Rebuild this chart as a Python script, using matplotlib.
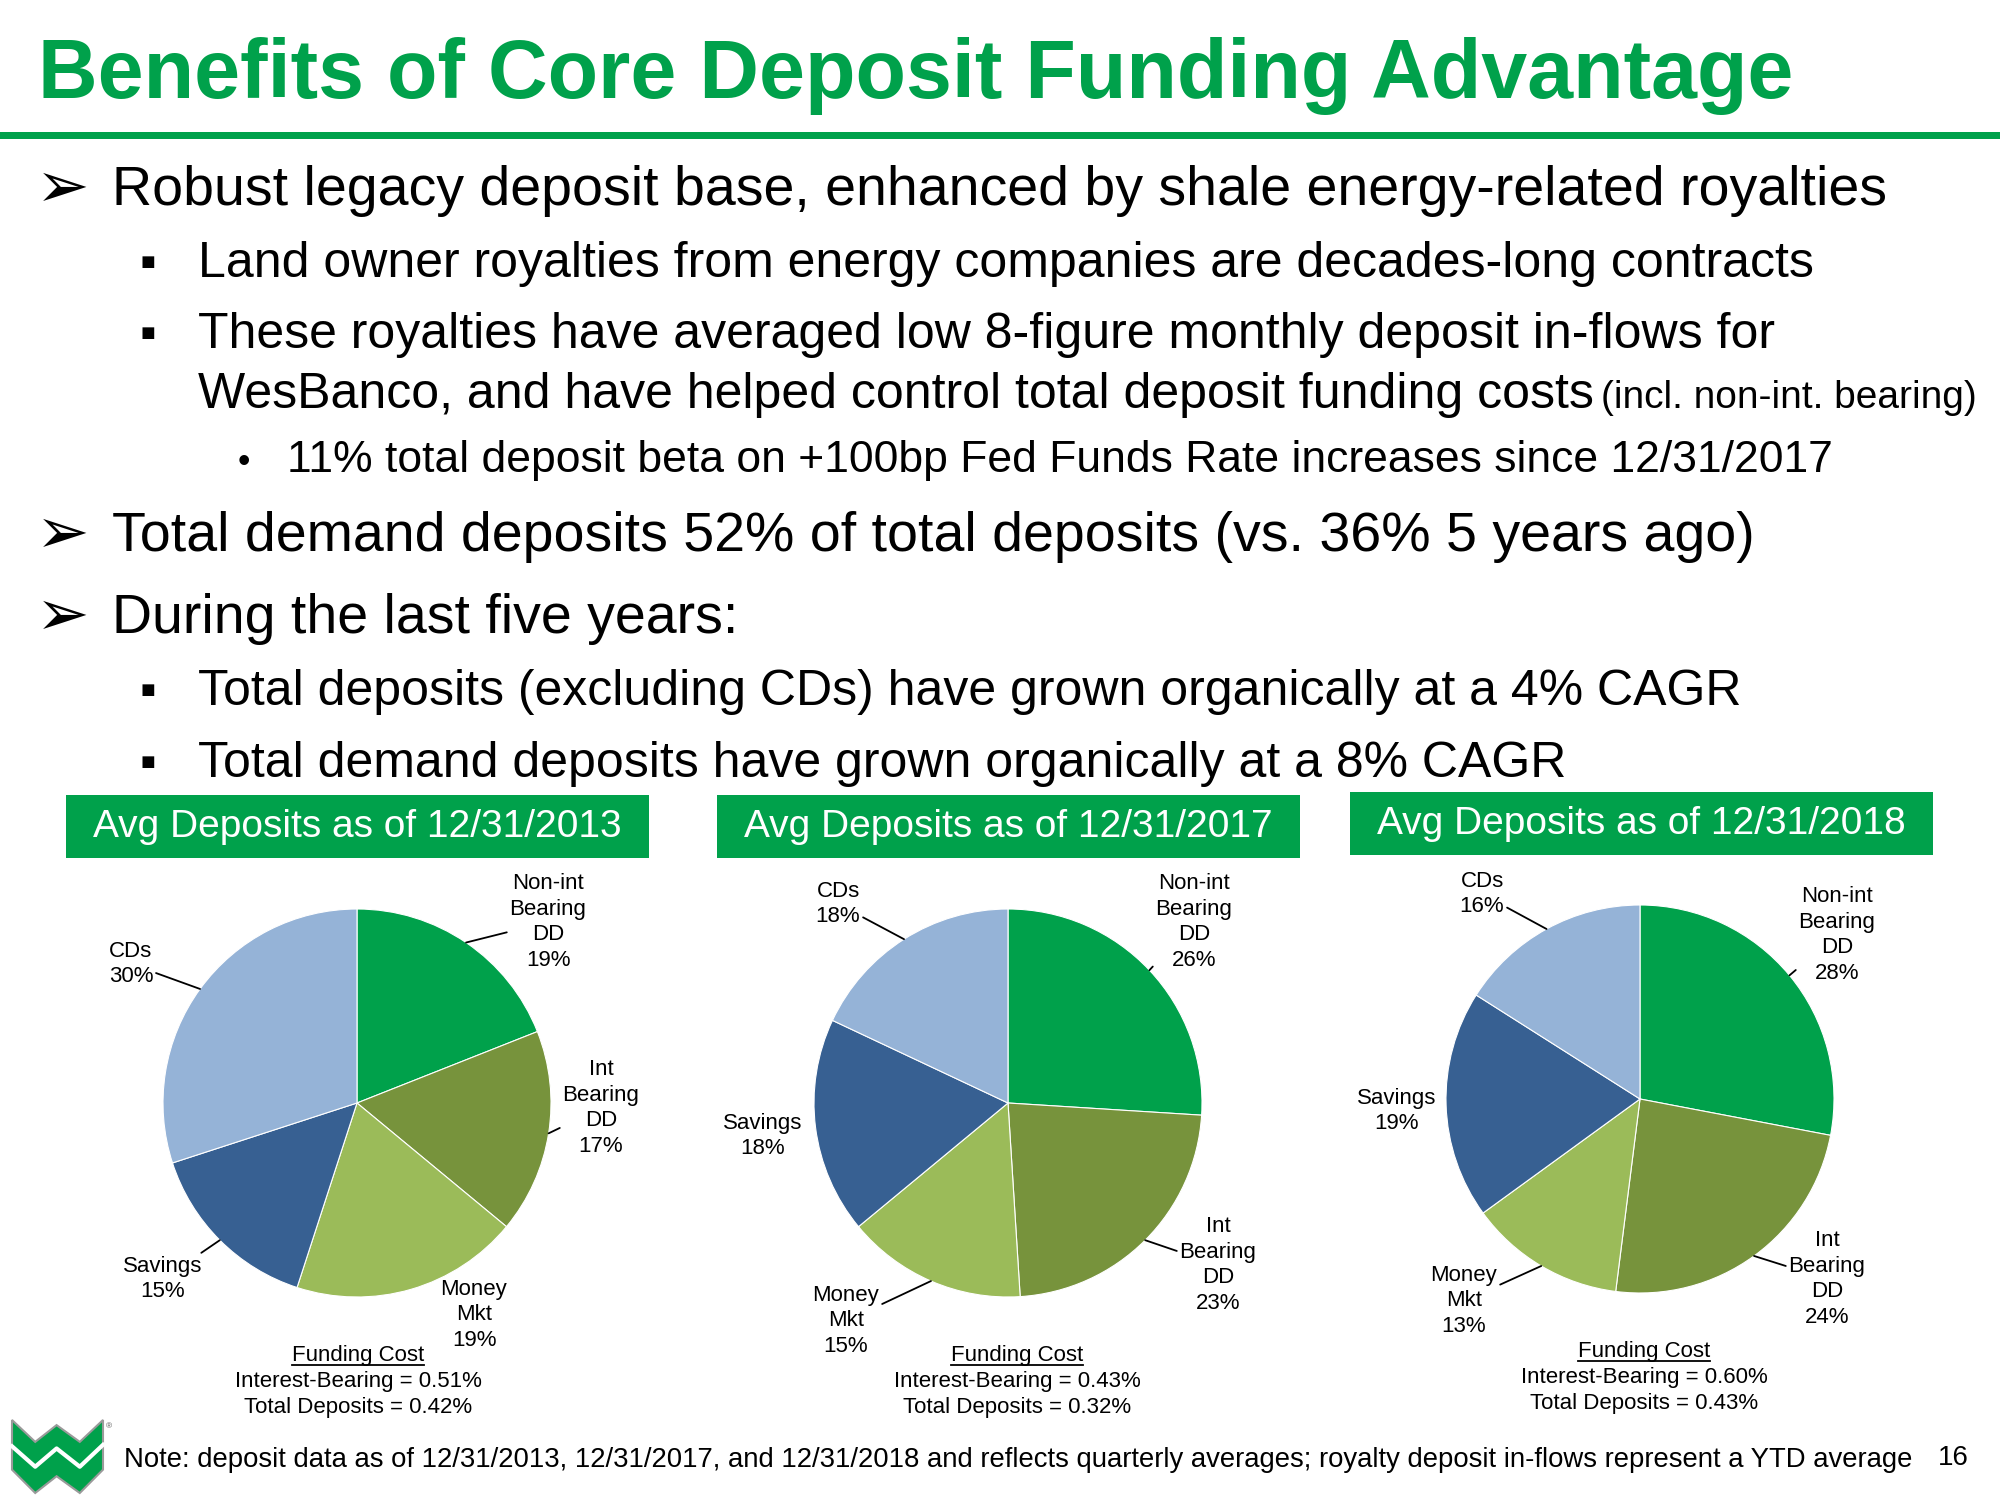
import numpy as np
import matplotlib
matplotlib.use('Agg')
import matplotlib.pyplot as plt
from matplotlib.patches import Rectangle, Polygon

plt.rcParams['font.family'] = ['Liberation Sans', 'DejaVu Sans']

# data
categories = ['Non-int\nBearing\nDD', 'Int\nBearing\nDD', 'Money\nMkt', 'Savings', 'CDs']
dates = ['12/31/2013', '12/31/2017', '12/31/2018']
share_2013 = [19, 17, 19, 15, 30]
share_2017 = [26, 23, 15, 18, 18]
share_2018 = [28, 24, 13, 19, 16]
int_bearing_cost = [0.51, 0.43, 0.60]
total_deposit_cost = [0.42, 0.32, 0.43]

GREEN = '#00A14B'
colors = ['#00A14B', '#77933C', '#9BBB59', '#376092', '#95B3D7']

W, H = 2000, 1500
fig = plt.figure(figsize=(20, 15), dpi=100)
bg = fig.add_axes([0, 0, 1, 1])
bg.set_xlim(0, W)
bg.set_ylim(H, 0)
bg.axis('off')

# title + rule
bg.text(38, 98, 'Benefits of Core Deposit Funding Advantage', fontsize=59.5,
        fontweight='bold', color=GREEN, va='baseline')
bg.add_patch(Rectangle((0, 132), W, 7, color=GREEN, lw=0))

# bullet text: (bullet, bullet x, text x, baseline, size, text)
arrow, square, dot = '\u27a2', '\u25aa', '\u2022'
lines = [
    (arrow, 36, 112, 205, 40, 'Robust legacy deposit base, enhanced by shale energy-related royalties'),
    (square, 139, 198, 277, 36, 'Land owner royalties from energy companies are decades-long contracts'),
    (square, 139, 198, 348, 36, 'These royalties have averaged low 8-figure monthly deposit in-flows for'),
    (None, 0, 198, 408, 36, 'WesBanco, and have helped control total deposit funding costs'),
    (dot, 238, 287, 472, 32, '11% total deposit beta on +100bp Fed Funds Rate increases since 12/31/2017'),
    (arrow, 36, 112, 551, 40, 'Total demand deposits 52% of total deposits (vs. 36% 5 years ago)'),
    (arrow, 36, 112, 633, 40, 'During the last five years:'),
    (square, 139, 198, 705, 36, 'Total deposits (excluding CDs) have grown organically at a 4% CAGR'),
    (square, 139, 198, 777, 36, 'Total demand deposits have grown organically at a 8% CAGR'),
]
for b, bx, tx, y, fs, s in lines:
    if b == arrow:
        bg.text(bx, y + 2, b, fontsize=46, va='baseline', family=['DejaVu Sans'])
    elif b == square:
        bg.text(bx, y, b, fontsize=34, va='baseline')
    elif b:
        bg.text(bx, y, b, fontsize=fs * 0.8, va='baseline')
    bg.text(tx, y, s, fontsize=fs, va='baseline')
bg.text(1601, 408, '(incl. non-int. bearing)', fontsize=28, va='baseline')

# pies
centers = [(357, 1103), (1008, 1103), (1640, 1099)]
R = 194
boxes = [(66, 795), (717, 795), (1350, 792)]
label_pos = [
    [(548, 922, True), (601, 1108, True), (474, 1315, False), (163, 1279, True), (131, 964, True)],
    [(1194, 922, True), (1218, 1265, True), (846, 1321, True), (763, 1136, False), (838, 904, True)],
    [(1837, 935, True), (1827, 1279, True), (1464, 1301, True), (1397, 1111, False), (1482, 894, True)],
]
funding_x = [358, 1017, 1644]
funding_y = [1361, 1361, 1357]

underlines = []
for i, shares in enumerate([share_2013, share_2017, share_2018]):
    bx, by = boxes[i]
    bg.add_patch(Rectangle((bx, by), 583, 63, color=GREEN, lw=0))
    bg.text(bx + 291, by + 32, 'Avg Deposits as of ' + dates[i], fontsize=28,
            color='white', ha='center', va='center')

    cx, cy = centers[i]
    ax = fig.add_axes([(cx - R) / W, 1 - (cy + R) / H, 2 * R / W, 2 * R / H])
    wedges, _ = ax.pie(shares, colors=colors, startangle=90, counterclock=False,
                       radius=1, wedgeprops=dict(edgecolor='white', linewidth=0.8))
    ax.set_xlim(-1, 1)
    ax.set_ylim(-1, 1)
    for w, cat, v, (lx, ly, lead) in zip(wedges, categories, shares, label_pos[i]):
        ang = np.deg2rad((w.theta1 + w.theta2) / 2)
        props = dict(arrowstyle='-', color='black', lw=1.3, shrinkA=0, shrinkB=0) if lead else None
        ax.annotate(f'{cat}\n{v}%', xy=(np.cos(ang), np.sin(ang)), xytext=(lx, ly),
                    textcoords=bg.transData, ha='center', va='center', fontsize=16,
                    linespacing=1.3, arrowprops=props, annotation_clip=False)

    fx, fy = funding_x[i], funding_y[i]
    t = bg.text(fx, fy, 'Funding Cost', fontsize=16, ha='center', va='baseline')
    underlines.append((t, fy))
    bg.text(fx, fy + 26, f'Interest-Bearing = {int_bearing_cost[i]:.2f}%', fontsize=16,
            ha='center', va='baseline')
    bg.text(fx, fy + 52, f'Total Deposits = {total_deposit_cost[i]:.2f}%', fontsize=16,
            ha='center', va='baseline')

# underline "Funding Cost"
fig.canvas.draw()
for t, fy in underlines:
    bb = t.get_window_extent()
    bg.plot([bb.x0, bb.x1], [fy + 4, fy + 4], color='black', lw=1.3)

# footnote + page number
bg.text(124, 1467, 'Note: deposit data as of 12/31/2013, 12/31/2017, and 12/31/2018 and reflects '
        'quarterly averages; royalty deposit in-flows represent a YTD average',
        fontsize=19.8, va='baseline')
bg.text(1953, 1465, '16', fontsize=20, ha='center', va='baseline')

# logo
lx0, ly0, lw_, lh = 12, 1420, 91, 73
outer = np.array([(0, 0), (0.255, 0.3), (0.49, 0.07), (0.745, 0.3), (1, 0), (1, 0.68),
                  (0.745, 1.0), (0.49, 0.77), (0.255, 1.0), (0, 0.68)])
bg.add_patch(Polygon(np.c_[lx0 + outer[:, 0] * lw_, ly0 + outer[:, 1] * lh],
                     facecolor=GREEN, edgecolor='#9a9a9a', lw=1.5))
zig = np.array([(0, 0.36), (0.255, 0.64), (0.49, 0.39), (0.745, 0.64), (1, 0.34)])
bg.plot(lx0 + zig[:, 0] * lw_, ly0 + zig[:, 1] * lh, color='white', lw=3)
bg.text(lx0 + lw_ + 3, ly0 + 8, '\u00ae', fontsize=6, color='#555555')

fig.savefig('out.png', dpi=100)
